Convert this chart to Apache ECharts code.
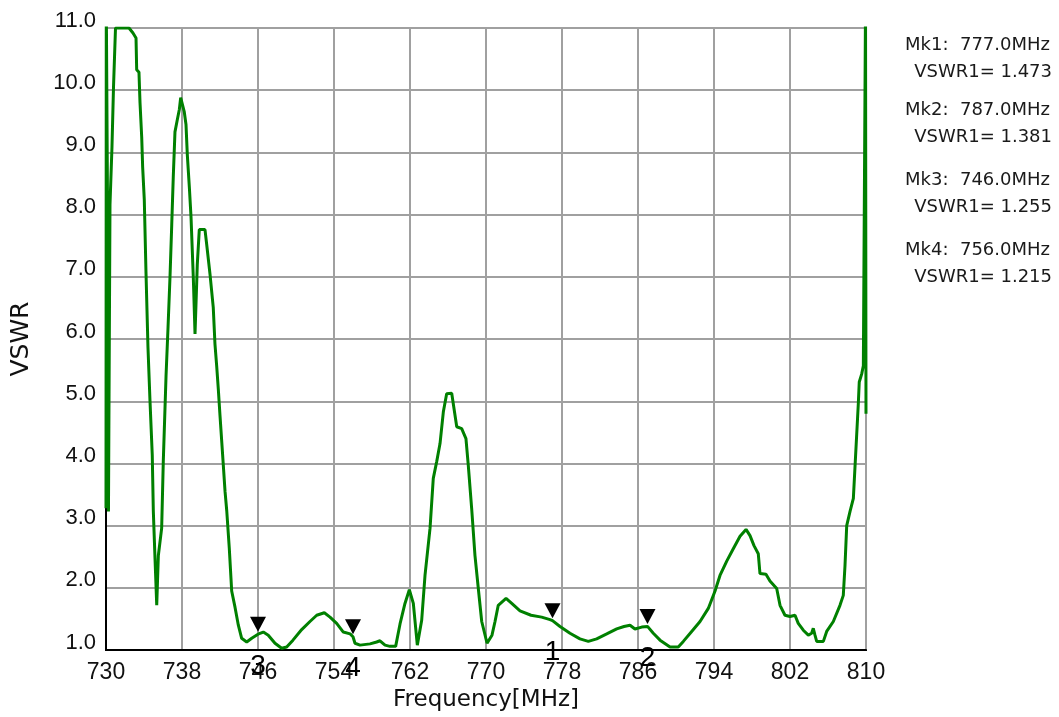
<!DOCTYPE html>
<html>
<head>
<meta charset="utf-8">
<script src="https://cdn.jsdelivr.net/npm/echarts@6/dist/echarts.min.js"></script>
<style>
  html, body { margin: 0; padding: 0; background: #fff; }
  #chart { width: 1059px; height: 717px; }
</style>
</head>
<body>
<div id="chart"></div>
<script>
// ---- data ----
const freq = [730.0, 730.03, 730.16, 730.26, 730.42, 730.53, 730.63, 730.77, 730.79, 730.95,
  731.0, 731.16, 732.42, 732.63, 732.84, 733.16, 733.23, 733.47, 733.58, 733.76,
  733.86, 734.03, 734.21, 734.42, 734.63, 734.87, 734.98, 735.16, 735.34, 735.51,
  735.86, 736.03, 736.32, 736.53, 736.74, 736.92, 737.08, 737.26, 737.51, 737.72,
  737.86, 738.24, 738.42, 738.56, 738.77, 738.95, 739.19, 739.37, 739.61, 739.82,
  740.42, 740.60, 740.95, 741.29, 741.47, 741.65, 741.82, 742.0, 742.28, 742.53,
  742.71, 742.98, 743.23, 743.58, 743.93, 744.28, 744.81, 745.34, 746.0, 746.56,
  747.08, 747.79, 748.49, 749.02, 749.68, 750.60, 751.47, 752.18, 752.98, 753.58,
  754.28, 754.98, 755.7, 756.0, 756.21, 756.74, 757.79, 758.49, 758.84, 759.37,
  759.89, 760.49, 760.95, 761.47, 761.93, 762.35, 762.77, 763.23, 763.58, 764.11,
  764.45, 764.81, 765.16, 765.51, 765.86, 766.39, 766.92, 767.44, 767.89, 768.14,
  768.49, 768.84, 769.19, 769.55, 770.11, 770.63, 770.95, 771.29, 772.11, 772.71,
  773.58, 774.74, 775.86, 776.74, 777.0, 777.79, 778.84, 779.89, 780.77, 781.65,
  782.71, 783.76, 784.53, 785.16, 785.68, 786.39, 787.0, 787.61, 788.32, 789.37,
  790.24, 790.77, 791.65, 792.53, 793.40, 794.11, 794.63, 795.34, 796.03, 796.74,
  797.37, 797.79, 798.21, 798.66, 798.84, 799.47, 799.89, 800.60, 800.95, 801.47,
  802.0, 802.53, 802.87, 803.40, 803.93, 804.28, 804.45, 804.63, 804.81, 805.51,
  805.86, 806.56, 807.26, 807.61, 807.79, 807.97, 808.32, 808.67, 809.19, 809.29,
  809.55, 809.72, 809.89, 809.95, 810.0];
const vswr = [3.28, 11.4, 8.16, 3.23, 8.16, 8.16, 9.09, 9.09, 10.05, 10.05,
  11.0, 11.0, 11.0, 10.97, 10.92, 10.84, 10.33, 10.29, 9.80, 9.24,
  8.76, 8.24, 7.07, 5.86, 5.01, 4.13, 3.24, 2.47, 1.72, 2.52,
  2.96, 4.03, 5.41, 6.19, 7.01, 7.84, 8.60, 9.33, 9.53, 9.69,
  9.88, 9.65, 9.45, 8.96, 8.45, 7.96, 6.99, 6.08, 7.20, 7.76,
  7.76, 7.52, 7.04, 6.51, 5.92, 5.57, 5.20, 4.77, 4.13, 3.55,
  3.24, 2.63, 1.95, 1.69, 1.40, 1.19, 1.13, 1.19, 1.255, 1.29,
  1.24, 1.11, 1.03, 1.05, 1.16, 1.33, 1.46, 1.56, 1.60, 1.53,
  1.43, 1.29, 1.26, 1.215, 1.11, 1.08, 1.10, 1.13, 1.15, 1.08,
  1.06, 1.06, 1.42, 1.75, 1.97, 1.75, 1.08, 1.48, 2.20, 2.96,
  3.76, 4.03, 4.32, 4.83, 5.12, 5.13, 4.59, 4.56, 4.40, 3.96,
  3.28, 2.52, 1.99, 1.46, 1.11, 1.24, 1.46, 1.72, 1.83, 1.75,
  1.63, 1.56, 1.53, 1.49, 1.473, 1.38, 1.27, 1.18, 1.14, 1.18,
  1.26, 1.34, 1.38, 1.40, 1.34, 1.37, 1.381, 1.27, 1.16, 1.05,
  1.05, 1.14, 1.30, 1.46, 1.67, 1.95, 2.20, 2.43, 2.63, 2.83,
  2.94, 2.84, 2.68, 2.55, 2.23, 2.22, 2.11, 1.99, 1.72, 1.56,
  1.54, 1.56, 1.43, 1.32, 1.24, 1.27, 1.35, 1.24, 1.14, 1.14,
  1.30, 1.46, 1.72, 1.88, 2.36, 3.00, 3.23, 3.44, 4.96, 5.31,
  5.44, 5.57, 5.57, 11.4, 4.80];

const markerNames = ['1', '2', '3', '4'];
const markerFreq = [777.0, 787.0, 746.0, 756.0];
const markerVswr = [1.473, 1.381, 1.255, 1.215];

const xMin = 730, xMax = 810, xStep = 8;
const yMin = 1, yMax = 11, yStep = 1;

// ---- chart ----
const FONT = 'DejaVu Sans';
const TICKFONT = 'Liberation Sans';
const curve = freq.map((f, i) => [f, vswr[i]]);
const marks = markerFreq.map((f, i) => [f, markerVswr[i]]);

const legendGraphics = [];
const mkY = [45, 110, 180, 250];
markerFreq.forEach((f, i) => {
  legendGraphics.push({
    type: 'text',
    x: 1050, y: mkY[i],
    style: { text: 'Mk' + markerNames[i] + ':  ' + f.toFixed(1) + 'MHz',
      font: '18px "' + FONT + '"', fill: '#1a1a1a', textAlign: 'right', textVerticalAlign: 'middle' }
  });
  legendGraphics.push({
    type: 'text',
    x: 1052, y: mkY[i] + 27,
    style: { text: 'VSWR1= ' + markerVswr[i].toFixed(3),
      font: '18px "' + FONT + '"', fill: '#1a1a1a', textAlign: 'right', textVerticalAlign: 'middle' }
  });
});

const chart = echarts.init(document.getElementById('chart'), null, { renderer: 'canvas' });
chart.setOption({
  animation: false,
  backgroundColor: '#ffffff',
  grid: { left: 106, right: 193, top: 28, bottom: 65, containLabel: false,
    show: true, borderColor: '#000', borderWidth: 2, backgroundColor: '#fff' },
  xAxis: {
    type: 'value', min: xMin, max: xMax, interval: xStep,
    name: 'Frequency[MHz]', nameLocation: 'middle', nameGap: 33,
    nameTextStyle: { fontFamily: FONT, fontSize: 23, color: '#111' },
    axisLine: { show: true, lineStyle: { color: '#000', width: 2 } },
    axisTick: { show: false },
    axisLabel: { margin: 11, fontFamily: TICKFONT, fontSize: 23, color: '#111' },
    splitLine: { show: true, lineStyle: { color: '#a0a0a0', width: 2 } }
  },
  yAxis: {
    type: 'value', min: yMin, max: yMax, interval: yStep,
    name: 'VSWR', nameLocation: 'middle', nameGap: 72,
    nameTextStyle: { fontFamily: FONT, fontSize: 25, color: '#111' },
    axisLine: { show: true, lineStyle: { color: '#000', width: 2 } },
    axisTick: { show: false },
    axisLabel: { margin: 10, fontFamily: TICKFONT, fontSize: 22, color: '#111',
      verticalAlign: 'bottom', lineHeight: 15, formatter: v => v.toFixed(1) },
    splitLine: { show: true, lineStyle: { color: '#a0a0a0', width: 2 } }
  },
  graphic: legendGraphics,
  series: [
    {
      type: 'line', data: curve, symbol: 'none', clip: true,
      lineStyle: { color: '#008000', width: 3 }, z: 3
    },
    {
      type: 'scatter', data: marks, symbol: 'triangle', symbolRotate: 180,
      symbolSize: [16, 15], symbolOffset: [0, -10], clip: false,
      itemStyle: { color: '#000', opacity: 1 }, z: 5
    },
    {
      type: 'scatter', data: marks, symbol: 'rect', symbolSize: 1, clip: false,
      zlevel: 1, z: 6,
      itemStyle: { color: 'rgba(0,0,0,0)', opacity: 1 },
      labelLayout: { dy: 32, hideOverlap: false },
      label: { show: true, position: 'inside',
        formatter: p => markerNames[p.dataIndex],
        fontFamily: TICKFONT, fontSize: 28, color: '#000' }
    }
  ]
});
</script>
</body>
</html>
